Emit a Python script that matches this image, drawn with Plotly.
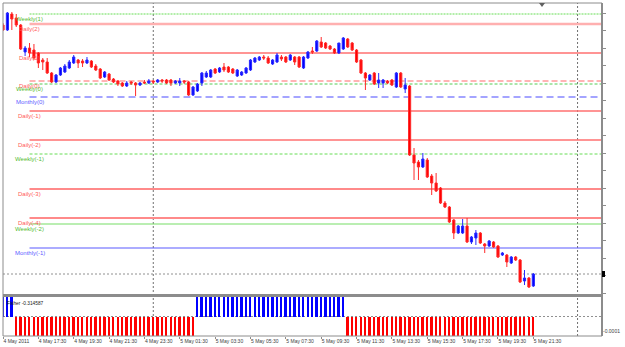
import pandas as pd
import plotly.graph_objects as go

# ---------------- data ----------------
times = pd.date_range("2011-05-04 15:30", periods=121, freq="15min")

open_ = [1.4978, 1.4973, 1.4989, 1.4985, 1.4978, 1.4951, 1.4955, 1.4953, 1.4950, 1.4943,
         1.4941, 1.4930, 1.4921, 1.4928, 1.4931, 1.4935, 1.4940, 1.4943, 1.4942, 1.4940,
         1.4942, 1.4937, 1.4934, 1.4926, 1.4929, 1.4924, 1.4922, 1.4920, 1.4917, 1.4921,
         1.4920, 1.4918, 1.4921, 1.4920, 1.4922, 1.4921, 1.4923, 1.4923, 1.4923, 1.4920,
         1.4920, 1.4922, 1.4921, 1.4908, 1.4912, 1.4920, 1.4926, 1.4926, 1.4934, 1.4931,
         1.4936, 1.4936, 1.4934, 1.4927, 1.4928, 1.4930, 1.4933, 1.4941, 1.4943, 1.4946,
         1.4945, 1.4939, 1.4941, 1.4946, 1.4946, 1.4943, 1.4946, 1.4946, 1.4935, 1.4945,
         1.4952, 1.4952, 1.4961, 1.4960, 1.4957, 1.4954, 1.4950, 1.4954, 1.4964, 1.4960,
         1.4953, 1.4943, 1.4930, 1.4923, 1.4930, 1.4920, 1.4920, 1.4922, 1.4923, 1.4916,
         1.4930, 1.4914, 1.4917, 1.4848, 1.4841, 1.4836, 1.4843, 1.4827, 1.4820, 1.4815,
         1.4800, 1.4796, 1.4783, 1.4770, 1.4770, 1.4777, 1.4761, 1.4765, 1.4770, 1.4759,
         1.4757, 1.4761, 1.4757, 1.4748, 1.4748, 1.4740, 1.4746, 1.4743, 1.4722, 1.4725,
         1.4717]
high = [1.4980, 1.4991, 1.4991, 1.4989, 1.4979, 1.4957, 1.4960, 1.4959, 1.4951, 1.4945,
        1.4945, 1.4931, 1.4929, 1.4936, 1.4939, 1.4943, 1.4948, 1.4944, 1.4944, 1.4946,
        1.4943, 1.4939, 1.4935, 1.4932, 1.4930, 1.4925, 1.4923, 1.4921, 1.4922, 1.4922,
        1.4921, 1.4921, 1.4923, 1.4924, 1.4923, 1.4924, 1.4924, 1.4924, 1.4924, 1.4923,
        1.4925, 1.4923, 1.4922, 1.4917, 1.4920, 1.4931, 1.4932, 1.4934, 1.4935, 1.4936,
        1.4940, 1.4937, 1.4935, 1.4934, 1.4932, 1.4936, 1.4944, 1.4946, 1.4947, 1.4948,
        1.4947, 1.4944, 1.4950, 1.4948, 1.4947, 1.4949, 1.4947, 1.4947, 1.4947, 1.4952,
        1.4956, 1.4963, 1.4966, 1.4961, 1.4958, 1.4955, 1.4960, 1.4966, 1.4965, 1.4961,
        1.4954, 1.4944, 1.4931, 1.4929, 1.4931, 1.4930, 1.4924, 1.4923, 1.4924, 1.4931,
        1.4931, 1.4925, 1.4918, 1.4855, 1.4843, 1.4850, 1.4845, 1.4829, 1.4830, 1.4816,
        1.4802, 1.4797, 1.4784, 1.4778, 1.4784, 1.4785, 1.4767, 1.4773, 1.4771, 1.4760,
        1.4763, 1.4762, 1.4758, 1.4751, 1.4749, 1.4747, 1.4747, 1.4744, 1.4733, 1.4726,
        1.4730]
low = [1.4972, 1.4972, 1.4973, 1.4976, 1.4953, 1.4947, 1.4946, 1.4943, 1.4935, 1.4933,
       1.4929, 1.4920, 1.4920, 1.4927, 1.4930, 1.4934, 1.4939, 1.4935, 1.4936, 1.4939,
       1.4935, 1.4932, 1.4924, 1.4925, 1.4922, 1.4920, 1.4917, 1.4916, 1.4916, 1.4918,
       1.4907, 1.4917, 1.4919, 1.4919, 1.4919, 1.4920, 1.4920, 1.4919, 1.4917, 1.4919,
       1.4917, 1.4919, 1.4907, 1.4907, 1.4911, 1.4917, 1.4925, 1.4925, 1.4929, 1.4930,
       1.4931, 1.4930, 1.4929, 1.4926, 1.4927, 1.4929, 1.4932, 1.4940, 1.4942, 1.4943,
       1.4939, 1.4938, 1.4940, 1.4942, 1.4940, 1.4942, 1.4938, 1.4935, 1.4934, 1.4944,
       1.4949, 1.4951, 1.4955, 1.4954, 1.4953, 1.4949, 1.4949, 1.4953, 1.4955, 1.4952,
       1.4940, 1.4929, 1.4913, 1.4922, 1.4918, 1.4915, 1.4915, 1.4919, 1.4917, 1.4915,
       1.4915, 1.4910, 1.4847, 1.4823, 1.4823, 1.4835, 1.4825, 1.4808, 1.4811, 1.4799,
       1.4795, 1.4780, 1.4764, 1.4769, 1.4769, 1.4760, 1.4759, 1.4758, 1.4759, 1.4750,
       1.4756, 1.4755, 1.4745, 1.4747, 1.4736, 1.4739, 1.4742, 1.4720, 1.4718, 1.4715,
       1.4716]
close = [1.4973, 1.4990, 1.4984, 1.4978, 1.4954, 1.4955, 1.4950, 1.4945, 1.4940, 1.4941,
         1.4930, 1.4921, 1.4928, 1.4935, 1.4937, 1.4941, 1.4946, 1.4940, 1.4940, 1.4943,
         1.4936, 1.4933, 1.4925, 1.4931, 1.4923, 1.4921, 1.4919, 1.4917, 1.4920, 1.4920,
         1.4918, 1.4920, 1.4920, 1.4922, 1.4921, 1.4923, 1.4922, 1.4920, 1.4920, 1.4922,
         1.4922, 1.4921, 1.4908, 1.4916, 1.4919, 1.4930, 1.4930, 1.4933, 1.4930, 1.4935,
         1.4933, 1.4931, 1.4930, 1.4933, 1.4931, 1.4935, 1.4943, 1.4945, 1.4946, 1.4945,
         1.4940, 1.4943, 1.4948, 1.4944, 1.4941, 1.4948, 1.4941, 1.4936, 1.4946, 1.4951,
         1.4951, 1.4962, 1.4956, 1.4955, 1.4954, 1.4950, 1.4960, 1.4965, 1.4956, 1.4953,
         1.4941, 1.4930, 1.4925, 1.4928, 1.4919, 1.4923, 1.4923, 1.4920, 1.4918, 1.4930,
         1.4916, 1.4918, 1.4848, 1.4840, 1.4836, 1.4844, 1.4826, 1.4820, 1.4812, 1.4800,
         1.4796, 1.4781, 1.4770, 1.4777, 1.4777, 1.4761, 1.4766, 1.4770, 1.4760, 1.4757,
         1.4762, 1.4756, 1.4746, 1.4750, 1.4741, 1.4746, 1.4743, 1.4721, 1.4725, 1.4716,
         1.4729]

fisher = [0.21, 0.35, 0.12,
          -0.05, -0.21, -0.48, -0.77, -1.02, -1.31, -1.56, -1.74, -1.88, -1.95,
          -1.83, -1.62, -1.37, -1.12, -0.95, -0.88, -0.84, -0.86, -0.93, -1.05,
          -1.19, -1.33, -1.46, -1.58, -1.66, -1.71, -1.69, -1.63, -1.55, -1.47,
          -1.38, -1.30, -1.22, -1.15, -1.07, -0.98, -0.91, -0.97, -0.81, -0.55, -0.24,
          0.06, 0.32, 0.61, 0.88, 1.10, 1.27, 1.39, 1.45, 1.41, 1.36,
          1.38, 1.49, 1.66, 1.85, 2.02, 2.11, 2.08, 2.05, 2.10, 2.13,
          2.09, 2.03, 1.98, 2.06, 2.21, 2.37, 2.52, 2.48, 2.36, 2.21,
          1.84, 1.31, 0.72, 0.19,
          -0.12, -0.45, -0.83, -1.21, -1.55, -1.82, -2.04, -2.18, -2.27, -2.31,
          -2.29, -2.35, -2.33, -2.42, -2.71, -3.02, -3.27, -3.45, -3.58, -3.66,
          -3.71, -3.74, -3.72, -3.65, -3.55, -3.41, -3.26, -3.08, -2.89, -2.70,
          -2.50, -2.29, -2.08, -1.86, -1.63, -1.40, -1.19, -0.98, -0.81, -0.66,
          -0.52, -0.41, -0.314587]

pivot_names = ["Weekly(1)", "Daily(2)", "Daily(1)", "Daily(0)", "Weekly(0)", "Monthly(0)",
               "Daily(-1)", "Daily(-2)", "Weekly(-1)", "Daily(-3)", "Daily(-4)",
               "Weekly(-2)", "Monthly(-1)"]
pivot_prices = [1.4989, 1.4979, 1.4950, 1.4922, 1.4919, 1.4906,
                1.4892, 1.4863, 1.4849, 1.4814, 1.4785, 1.4779, 1.4755]
pivot_start = "2011-05-04 17:00"

tick_times = ["2011-05-04 15:30", "2011-05-04 17:30", "2011-05-04 19:30", "2011-05-04 21:30",
              "2011-05-04 23:30", "2011-05-05 01:30", "2011-05-05 03:30", "2011-05-05 05:30",
              "2011-05-05 07:30", "2011-05-05 09:30", "2011-05-05 11:30", "2011-05-05 13:30",
              "2011-05-05 15:30", "2011-05-05 17:30", "2011-05-05 19:30", "2011-05-05 21:30"]
tick_labels = ["4 May 2011", "4 May 17:30", "4 May 19:30", "4 May 21:30", "4 May 23:30",
               "5 May 01:30", "5 May 03:30", "5 May 05:30", "5 May 07:30", "5 May 09:30",
               "5 May 11:30", "5 May 13:30", "5 May 15:30", "5 May 17:30", "5 May 19:30",
               "5 May 21:30"]
day_separators = ["2011-05-05 00:00", "2011-05-06 00:00"]
fisher_label = "Fisher -0.314587"

# ---------------- figure ----------------
W, H = 625, 347
ML, MR, MT, MB = 3, 23, 3, 11
x_range = ["2011-05-04 15:30:00", "2011-05-06 01:23:00"]
main_dom = [(336 - 294) / 333, 1.0]
ind_dom = [0.0, (336 - 297) / 333]

FONT = "Liberation Sans"

fig = go.Figure()
fig.add_trace(go.Candlestick(
    x=times, open=open_, high=high, low=low, close=close,
    increasing=dict(line=dict(color="#2a2aff", width=1), fillcolor="#0000ff"),
    decreasing=dict(line=dict(color="#ff2a2a", width=1), fillcolor="#ff0000"),
    whiskerwidth=0, showlegend=False, hoverinfo="skip", xaxis="x", yaxis="y"))

bar_colors = ["#0000ff" if v > 0 else "#ff0000" for v in fisher]
fig.add_trace(go.Bar(
    x=times, y=fisher, marker=dict(color=bar_colors, line=dict(width=0)),
    width=370000, showlegend=False, hoverinfo="skip", xaxis="x2", yaxis="y2"))

styles = {
    "Weekly(1)": dict(color="#66dd55", width=1, dash="2px,1px"),
    "Daily(2)": dict(color="#ffb0b0", width=2.5, dash="solid"),
    "Daily(1)": dict(color="#ff7070", width=1.5, dash="solid"),
    "Daily(0)": dict(color="#ff9c9c", width=1.5, dash="6px,3px"),
    "Weekly(0)": dict(color="#55cc55", width=1, dash="3px,2px"),
    "Monthly(0)": dict(color="#4a4aff", width=1.2, dash="7px,4px"),
    "Daily(-1)": dict(color="#ff7070", width=1.5, dash="solid"),
    "Daily(-2)": dict(color="#ff7070", width=1.5, dash="solid"),
    "Weekly(-1)": dict(color="#66dd55", width=1, dash="3px,2px"),
    "Daily(-3)": dict(color="#ff8a8a", width=1.8, dash="solid"),
    "Daily(-4)": dict(color="#ff8a8a", width=1.8, dash="solid"),
    "Weekly(-2)": dict(color="#77dd66", width=1.2, dash="solid"),
    "Monthly(-1)": dict(color="#5a5aff", width=1.2, dash="solid"),
}
label_colors = {"Daily": "#ff5a5a", "Weekly": "#55bb33", "Monthly": "#6060ff"}

shapes = []
annotations = []
for name, price in zip(pivot_names, pivot_prices):
    st = styles[name]
    shapes.append(dict(type="line", xref="x", yref="y", x0=pivot_start, x1=x_range[1],
                       y0=price, y1=price, layer="below", line=st))
    kind = name.split("(")[0]
    annotations.append(dict(x=pivot_start, y=price, xref="x", yref="y", text=name,
                            showarrow=False, xanchor="center", yanchor="top", yshift=0,
                            font=dict(family=FONT, size=6, color=label_colors[kind])))

# bid line (last close)
shapes.append(dict(type="line", xref="paper", yref="y", x0=0, x1=1, y0=close[-1], y1=close[-1],
                   layer="below", line=dict(color="#909090", width=1, dash="2px,2px")))
# indicator zero line
shapes.append(dict(type="line", xref="paper", yref="y2", x0=0, x1=1, y0=0, y1=0,
                   layer="below", line=dict(color="#909090", width=1, dash="2px,2px")))
# day separators
for d in day_separators:
    shapes.append(dict(type="line", xref="x", yref="paper", x0=d, x1=d, y0=0, y1=1,
                       layer="below", line=dict(color="#707070", width=1, dash="2px,2px")))
# frames
pw = W - ML - MR
ph = H - MT - MB
shapes += [
    dict(type="line", xref="paper", yref="paper", x0=0, x1=0, y0=0, y1=1,
         line=dict(color="#8c8c8c", width=1)),
    dict(type="line", xref="paper", yref="paper", x0=1, x1=1, y0=0, y1=1,
         line=dict(color="#8c8c8c", width=2)),
    dict(type="line", xref="paper", yref="paper", x0=0, x1=1, y0=1, y1=1,
         line=dict(color="#8c8c8c", width=1)),
    dict(type="line", xref="paper", yref="paper", x0=0, x1=1, y0=0, y1=0,
         line=dict(color="#8c8c8c", width=1)),
    dict(type="rect", xref="paper", yref="paper", x0=0, x1=1,
         y0=ind_dom[1], y1=main_dom[0], line=dict(width=0), fillcolor="#8c8c8c"),
    # price marker
    dict(type="rect", xref="paper", yref="y", x0=1, x1=1 + 3 / pw,
         y0=close[-1] - 0.0003, y1=close[-1] + 0.0003, line=dict(width=0), fillcolor="#000000"),
    # chart shift marker
    dict(type="path", xref="paper", yref="paper",
         path="M %f,1 L %f,1 L %f,%f Z" % ((539 - ML) / pw, (545 - ML) / pw, (542 - ML) / pw,
                                           1 - 4 / ph),
         line=dict(width=0), fillcolor="#606060"),
]

annotations.append(dict(x=0.004, y=ind_dom[1], xref="paper", yref="paper", text=fisher_label,
                        showarrow=False, xanchor="left", yanchor="top", yshift=-2,
                        font=dict(family=FONT, size=4.8, color="#202020")))

fig.update_layout(
    width=W, height=H, margin=dict(l=ML, r=MR, t=MT, b=MB, autoexpand=False),
    paper_bgcolor="white", plot_bgcolor="white", showlegend=False,
    hovermode=False, bargap=0,
    xaxis=dict(domain=[0, 1], anchor="y", range=x_range, showticklabels=False,
               showgrid=False, zeroline=False, showline=False, ticks="",
               rangeslider=dict(visible=False), fixedrange=True, automargin=False),
    yaxis=dict(domain=main_dom, anchor="x", side="right", range=[1.4709, 1.5000],
               showgrid=False, zeroline=False, showticklabels=False,
               ticks="outside", ticklen=3, tickcolor="#8c8c8c", automargin=False,
               tick0=1.48673, dtick=0.00175, showline=False),
    xaxis2=dict(domain=[0, 1], anchor="y2", range=x_range, showgrid=False, zeroline=False,
                tickmode="array", tickvals=tick_times, ticktext=tick_labels,
                ticklabelposition="outside right", ticks="outside", ticklen=2,
                tickangle=0, automargin=False, tickcolor="#8c8c8c",
                tickfont=dict(family=FONT, size=5, color="#404040")),
    yaxis2=dict(domain=ind_dom, anchor="x2", side="right", range=[-0.0001345, 0.0001345],
                showgrid=False, zeroline=False, tickmode="array", tickvals=[-0.0001],
                ticktext=["-0.0001"], ticks="", automargin=False,
                tickfont=dict(family=FONT, size=5, color="#404040")),
    shapes=shapes, annotations=annotations,
)

fig.write_html("out.html")
